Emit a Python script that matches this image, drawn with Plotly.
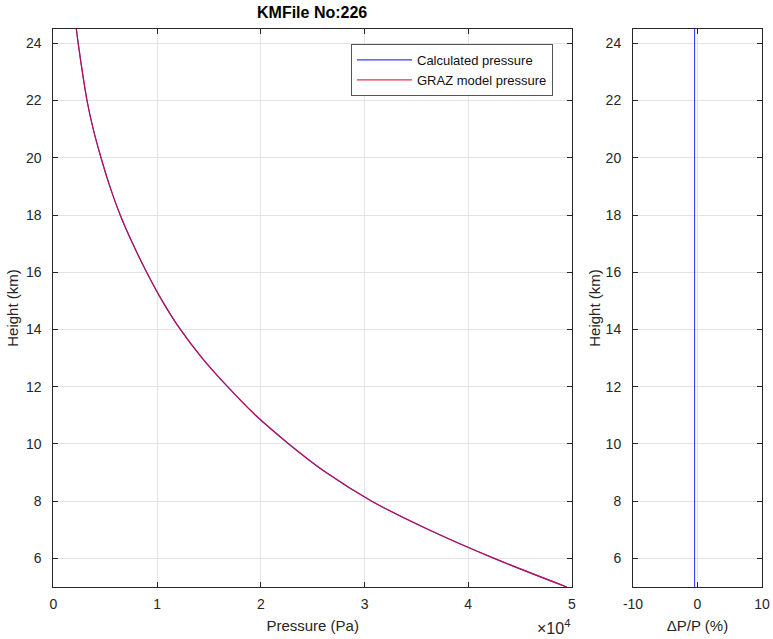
import plotly.graph_objects as go

# ---- data ----
height_km = [5, 6, 7, 8, 9, 10, 11, 12, 13, 14, 15, 16, 17, 18, 19, 20, 21, 22, 23, 24, 24.5]
calc_pressure_pa = [49500, 42500, 36200, 30700, 26300, 22700, 19500, 16800, 14350, 12250,
                    10500, 9000, 7650, 6450, 5450, 4600, 3850, 3250, 2800, 2400, 2220]
graz_pressure_pa = [49500, 42500, 36200, 30700, 26300, 22700, 19500, 16800, 14350, 12250,
                    10500, 9000, 7650, 6450, 5450, 4600, 3850, 3250, 2800, 2400, 2220]
dp_height_km = [5, 10, 15, 20, 24.5]
dp_percent = [-0.45, -0.45, -0.45, -0.45, -0.45]

x_tickvals = [0, 10000, 20000, 30000, 40000, 50000]
x_ticktext = ["0", "1", "2", "3", "4", "5"]
y_ticks = [6, 8, 10, 12, 14, 16, 18, 20, 22, 24]
dp_ticks = [-10, 0, 10]
dp_ticktext = ["-10", "0", "10"]

W, H = 773, 639
FONT = "Liberation Sans, Arial, sans-serif"
AX = "#262626"
GRID = "#e3e3e3"

fig = go.Figure()
fig.add_trace(go.Scatter(x=calc_pressure_pa, y=height_km, mode="lines",
                         line=dict(color="#3a3aff", width=1.2, shape="spline"),
                         name="Calculated pressure", xaxis="x", yaxis="y"))
fig.add_trace(go.Scatter(x=graz_pressure_pa, y=height_km, mode="lines",
                         line=dict(color="rgba(220,0,30,0.8)", width=1.2, shape="spline"),
                         name="GRAZ model pressure", xaxis="x", yaxis="y"))
fig.add_trace(go.Scatter(x=dp_percent, y=dp_height_km, mode="lines",
                         line=dict(color="#2a2aff", width=1),
                         showlegend=False, xaxis="x2", yaxis="y2"))

def px(v):
    return v / W

def py(v):
    return 1 - v / H

axis_common = dict(showline=True, linecolor=AX, linewidth=1, mirror="ticks",
                   ticks="inside", ticklen=5, tickcolor=AX, automargin=False,
                   showgrid=True, gridcolor=GRID, gridwidth=1, zeroline=False,
                   tickfont=dict(family=FONT, size=14, color=AX))

fig.update_layout(
    width=W, height=H,
    margin=dict(l=0, r=0, t=0, b=0, autoexpand=False),
    paper_bgcolor="white", plot_bgcolor="white",
    font=dict(family=FONT, color=AX),
    xaxis=dict(domain=[px(53.3), px(572)], range=[0, 50000],
               tickvals=x_tickvals, ticktext=x_ticktext, anchor="y", ticklabelstandoff=4,
               title=dict(text="Pressure (Pa)", font=dict(size=15, color=AX), standoff=9),
               **axis_common),
    yaxis=dict(domain=[py(587), py(29)], range=[5, 24.5], tickvals=y_ticks, anchor="x",
               ticklabelstandoff=8,
               title=dict(text="Height (km)", font=dict(size=15, color=AX), standoff=3),
               **axis_common),
    xaxis2=dict(domain=[px(633), px(762)], range=[-10, 10], tickvals=dp_ticks,
                ticktext=dp_ticktext, anchor="y2", ticklabelstandoff=4,
                title=dict(text="ΔP/P (%)", font=dict(size=15, color=AX), standoff=9),
                **axis_common),
    yaxis2=dict(domain=[py(587), py(29)], range=[5, 24.5], tickvals=y_ticks, anchor="x2",
                ticklabelstandoff=8,
                title=dict(text="Height (km)", font=dict(size=15, color=AX), standoff=1),
                **axis_common),
    legend=dict(x=px(553), y=py(44), xanchor="right", yanchor="top",
                bgcolor="white", bordercolor="#555555", borderwidth=1,
                font=dict(family=FONT, size=13, color="#111111"),
                tracegroupgap=0, itemwidth=55),
    showlegend=True,
    annotations=[
        dict(text="<b>KMFile No:226</b>", x=px(312), y=py(13), xref="paper", yref="paper",
             showarrow=False, font=dict(family=FONT, size=16, color="#000000"),
             xanchor="center", yanchor="middle"),
        dict(text="×10<sup>4</sup>", x=px(572), y=py(627), xref="paper", yref="paper",
             showarrow=False, font=dict(family=FONT, size=16, color=AX),
             xanchor="right", yanchor="middle"),
    ],
)

fig.write_html("out.html")
